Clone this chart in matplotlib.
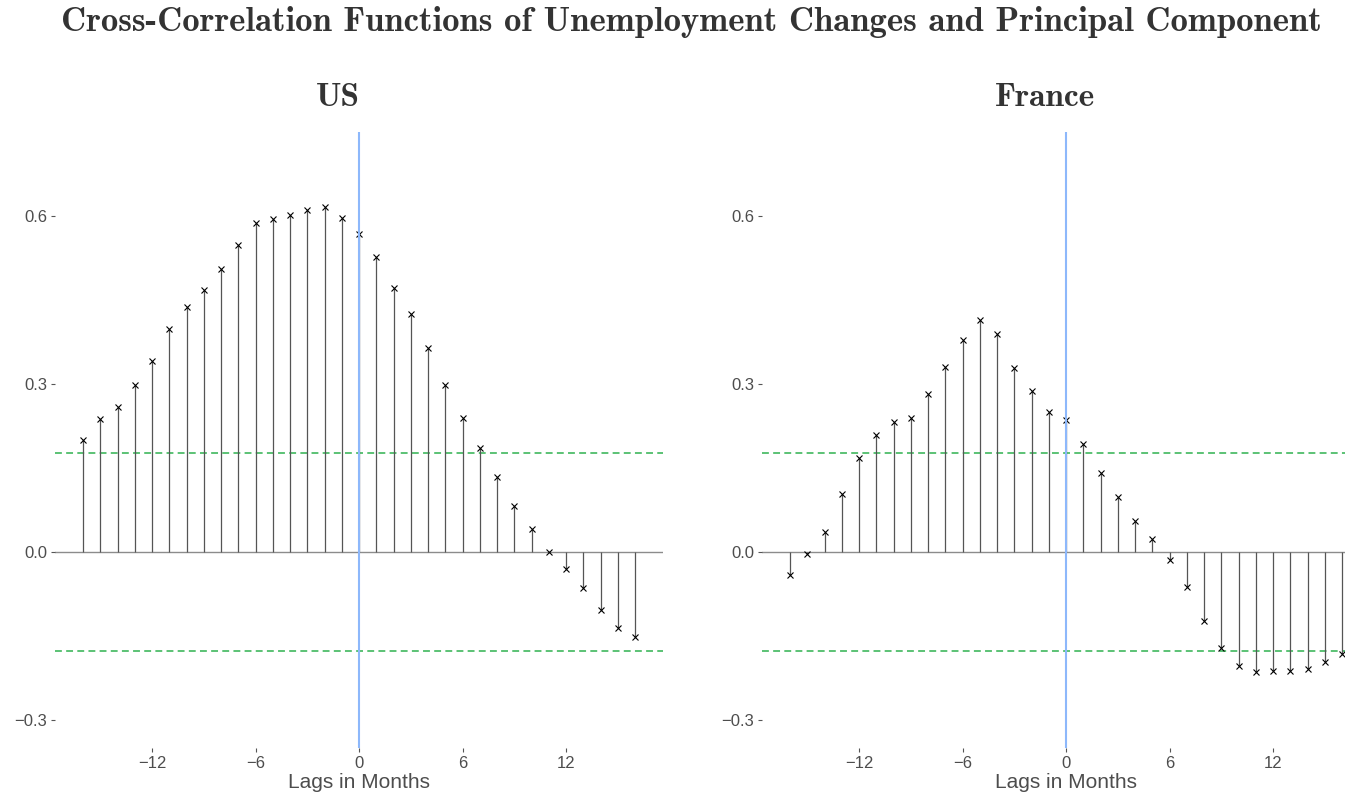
import matplotlib
matplotlib.use("Agg")
import matplotlib.pyplot as plt

# cross-correlations at lags -16..16 months
lags = list(range(-16, 17))
us_ccf = [0.200, 0.237, 0.259, 0.299, 0.341, 0.399, 0.438, 0.468, 0.505, 0.548,
          0.588, 0.595, 0.602, 0.611, 0.616, 0.596, 0.567, 0.527, 0.471, 0.425,
          0.364, 0.298, 0.239, 0.186, 0.134, 0.082, 0.041, 0.000, -0.030, -0.065,
          -0.104, -0.136, -0.152]
fr_ccf = [-0.041, -0.004, 0.035, 0.104, 0.168, 0.209, 0.232, 0.240, 0.282, 0.330,
          0.379, 0.414, 0.389, 0.329, 0.288, 0.250, 0.236, 0.192, 0.141, 0.098,
          0.055, 0.024, -0.014, -0.063, -0.123, -0.172, -0.203, -0.215, -0.213, -0.213,
          -0.209, -0.196, -0.183]
conf_band = 0.177
panels = ["US", "France"]
yticks = [-0.3, 0.0, 0.3, 0.6]
xticks = [-12, -6, 0, 6, 12]

W, H = 1345, 793
fig = plt.figure(figsize=(W / 100, H / 100), dpi=100)

def add_axes_px(left, top, right, bottom):
    return fig.add_axes([left / W, 1 - bottom / H, (right - left) / W, (bottom - top) / H])

title_font = dict(family="cmb10", color="#333333")
sans = dict(family="Liberation Sans", color="#4d4d4d")

fig.text(691 / W, 1 - 31 / H,
         "Cross-Correlation Functions of Unemployment Changes and Principal Component",
         ha="center", va="baseline", size=25, **title_font)

lefts = [55.4, 762.4]
for name, vals, left in zip(panels, [us_ccf, fr_ccf], lefts):
    ax = add_axes_px(left, 132, left + 607.2, 748)
    ax.set_xlim(-17.6, 17.6)
    ax.set_ylim(-0.35, 0.75)
    for s in ax.spines.values():
        s.set_visible(False)

    ax.axhline(0, color="#8c8c8c", lw=1, zorder=1)
    for c in (conf_band, -conf_band):
        ax.axhline(c, color="#2fb24f", lw=1.1, ls=(0, (4.5, 2.8)), zorder=1)
    ax.vlines(lags, 0, vals, color="#555555", lw=0.9, zorder=2)
    ax.plot(lags, vals, ls="none", marker="x", ms=4.5, mew=0.8, color="black", zorder=3)
    ax.axvline(0, color="#8db8fb", lw=1.5, zorder=4)

    ax.set_xticks(xticks)
    ax.set_xticklabels([f"{t}".replace("-", "\u2212") for t in xticks])
    ax.set_yticks(yticks)
    ax.set_yticklabels([f"{t:.1f}".replace("-", "\u2212") for t in yticks])
    ax.tick_params(length=3, width=0.8, color="#555555", pad=3,
                   labelsize=12, labelcolor="#4d4d4d")
    for lab in ax.get_xticklabels() + ax.get_yticklabels():
        lab.set_family("Liberation Sans")
    ax.set_xlabel("Lags in Months", fontsize=15, labelpad=1, **sans)

    cx = left + 607.2 / 2 - 21
    fig.text(cx / W, 1 - 106 / H, name, ha="center", va="baseline", size=24, **title_font)

fig.savefig("out.png", dpi=100, facecolor="white")
